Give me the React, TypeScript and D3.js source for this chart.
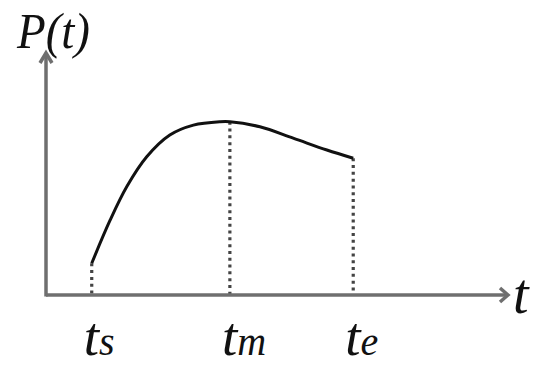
import React, { useEffect, useRef } from 'react';
import * as d3 from 'd3';

// curve (arbitrary units, 0..100 on both axes)
const tValues = [9.9, 13.9, 17.5, 21.8, 26.8, 31.9, 37.7, 39.8, 46.3, 53.5, 60.8, 66.5];
const pValues = [13.1, 31.0, 44.8, 57.1, 66.1, 70.2, 71.6, 71.6, 69.5, 64.8, 59.9, 56.5];

// marked instants on the t axis
const markNames = ['s', 'm', 'e'];
const markT = [9.9, 39.8, 66.5];
const markP = [13.1, 71.6, 56.5];

const width = 550, height = 372;
const serif = 'Liberation Serif';
const axisColor = '#6f6f6f';

const App = () => {
    const ref = useRef<SVGGElement>(null);

    const x = d3.scaleLinear().domain([0, 100]).range([46, 508]);
    const y = d3.scaleLinear().domain([0, 100]).range([295, 53]);

    const line = d3.line<number>()
        .x((d, i) => x(tValues[i]))
        .y(d => y(d))
        .curve(d3.curveCatmullRom);

    useEffect(() => {
        const g = d3.select(ref.current);
        g.selectAll('*').remove();

        // dotted drop lines
        g.selectAll('line.drop')
            .data(markT)
            .enter()
            .append('line')
            .attr('class', 'drop')
            .attr('x1', d => x(d))
            .attr('x2', d => x(d))
            .attr('y1', (d, i) => y(markP[i]))
            .attr('y2', y(0))
            .attr('stroke', '#444')
            .attr('stroke-width', 3.2)
            .attr('stroke-dasharray', '3,3.8');

        // axes
        g.append('line')
            .attr('x1', x(0)).attr('x2', x(100))
            .attr('y1', y(0)).attr('y2', y(0))
            .attr('stroke', axisColor).attr('stroke-width', 3.5);
        g.append('line')
            .attr('x1', x(0)).attr('x2', x(0))
            .attr('y1', y(0) + 1.5).attr('y2', y(100))
            .attr('stroke', axisColor).attr('stroke-width', 3.5);

        // arrow heads
        g.append('polyline')
            .attr('points', `${x(100) - 8},${y(0) - 7} ${x(100)},${y(0)} ${x(100) - 8},${y(0) + 7}`)
            .attr('fill', 'none').attr('stroke', axisColor).attr('stroke-width', 3.5);
        g.append('polyline')
            .attr('points', `${x(0) - 6},${y(100) + 10} ${x(0)},${y(100)} ${x(0) + 6},${y(100) + 10}`)
            .attr('fill', 'none').attr('stroke', axisColor).attr('stroke-width', 3.5);

        // the curve
        g.append('path')
            .attr('d', line(pValues))
            .attr('fill', 'none')
            .attr('stroke', '#111')
            .attr('stroke-width', 3);

        // tick labels t_s, t_m, t_e
        const labels = g.selectAll('text.mark')
            .data(markT)
            .enter()
            .append('text')
            .attr('class', 'mark')
            .attr('x', d => x(d) - 8)
            .attr('y', 355)
            .attr('font-family', serif)
            .attr('font-style', 'italic')
            .attr('fill', '#111');
        labels.append('tspan').attr('font-size', 55).text('t');
        labels.append('tspan').attr('font-size', 40).text((d, i) => markNames[i]);

        // axis titles
        g.append('text')
            .attr('x', 513).attr('y', 313)
            .attr('font-family', serif).attr('font-style', 'italic')
            .attr('font-size', 56).attr('fill', '#111')
            .text('t');
        g.append('text')
            .attr('x', 17).attr('y', 48)
            .attr('font-family', serif).attr('font-style', 'italic')
            .attr('font-size', 50).attr('fill', '#111')
            .attr('textLength', 73).attr('lengthAdjust', 'spacingAndGlyphs')
            .text('P(t)');
    }, []);

    return (
        <svg width={width} height={height} style={{ position: 'absolute', left: 0, top: 0, background: '#fff' }}>
            <g ref={ref} />
        </svg>
    );
};

export default App;
